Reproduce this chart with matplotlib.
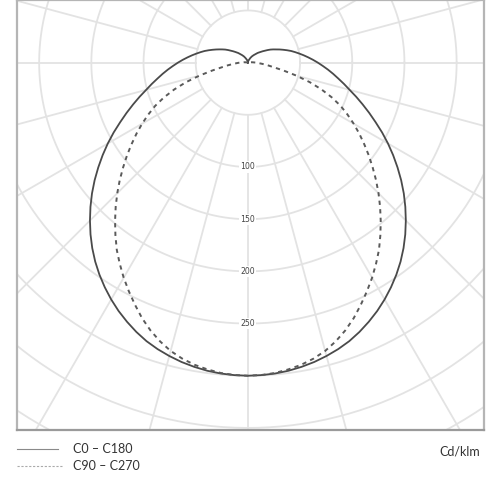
import matplotlib

matplotlib.use("Agg")
import matplotlib.pyplot as plt
import numpy as np

# photometric data, cd/klm, gamma measured from nadir (symmetric planes), 2.5 deg steps
gamma = [i * 2.5 for i in range(73)]
c0_c180 = [300, 299.7, 299, 297.8, 296, 293.8, 291, 287.8, 284, 279.3, 274, 268.3,
           262, 255.2, 248, 240.3, 232, 223.2, 214, 204.6, 195, 185.1, 175, 165,
           155, 145, 135, 125.8, 117, 108.8, 101, 94.3, 88, 82.4, 77, 71.8, 67,
           62.4, 58, 53.9, 50, 46.4, 43, 39.4, 36, 32.9, 30, 27.4, 25, 22.4, 20,
           17.9, 16, 14.4, 13, 11.4, 10, 9, 8, 7, 6, 5, 4, 3.5, 3, 2.5, 2, 1.5, 1,
           0.7, 0.5, 0.2, 0]
c90_c270 = [300, 299.6, 298.5, 296.5, 294, 290.5, 286, 280, 273, 265, 256, 247,
            238, 228.5, 219, 208.5, 198, 187.5, 177, 166.5, 156, 146, 136, 126.5,
            117, 107.5, 98, 87, 75, 62, 48, 35, 25, 19, 14, 10.5, 8, 5.5, 4, 2.5,
            1.5, 0.7, 0, 0, 0, 0, 0, 0, 0, 0, 0, 0, 0, 0, 0, 0, 0, 0, 0, 0, 0, 0,
            0, 0, 0, 0, 0, 0, 0, 0, 0, 0, 0]
ring_values = [50, 100, 150, 200, 250, 300, 350, 400, 450]
ring_labels = [100, 150, 200, 250]
legend_names = ["C0 \u2013 C180", "C90 \u2013 C270"]
unit_label = "Cd/klm"

GRID = "#e3e3e3"


def outline(vals):
    g = np.radians(gamma)
    r = np.asarray(vals, dtype=float)
    x = np.concatenate([-(r * np.sin(g))[::-1], (r * np.sin(g))[1:]])
    y = np.concatenate([-(r * np.cos(g))[::-1], -(r * np.cos(g))[1:]])
    return x, y


fig = plt.figure(figsize=(5, 5), dpi=100)
ax = fig.add_axes([0.034, 0.14, 0.934, 0.86])
ax.set_xlim(-221, 226)
ax.set_ylim(-352, 60)
ax.set_aspect("equal", adjustable="box")
ax.set_xticks([]); ax.set_yticks([])
for s in ax.spines.values():
    s.set_color("#b5b5b5"); s.set_linewidth(1.6)
ax.spines["bottom"].set_color("#9a9a9a")

t = np.linspace(0, 2 * np.pi, 400)
for rv in ring_values:
    ax.plot(rv * np.cos(t), rv * np.sin(t), color=GRID, lw=1.3, zorder=1)
for a in np.arange(0, 360, 15):
    ar = np.radians(a)
    ax.plot([50 * np.cos(ar), 600 * np.cos(ar)], [50 * np.sin(ar), 600 * np.sin(ar)],
            color=GRID, lw=1.3, zorder=1)

for lv in ring_labels:
    ax.text(0, -lv, str(lv), ha="center", va="center", fontsize=5.6, color="#444444",
            zorder=3, bbox=dict(boxstyle="square,pad=0.15", fc="white", ec="none"))

xs, ys = outline(c0_c180)
ax.plot(xs, ys, color="#4a4a4a", lw=1.3, zorder=4)
xd, yd = outline(c90_c270)
ax.plot(xd, yd, color="#5a5a5a", lw=1.4, ls=(0, (2.2, 2.2)), zorder=4)

# legend under the box
fig.add_artist(plt.Line2D([0.034, 0.116], [0.102, 0.102], color="#8a8a8a", lw=0.8))
fig.add_artist(plt.Line2D([0.034, 0.124], [0.068, 0.068], color="#aaaaaa", lw=0.8,
                          ls=(0, (2, 1.5))))
fig.text(0.146, 0.102, legend_names[0], fontsize=9, family="Lato", color="#333333",
         va="center")
fig.text(0.146, 0.068, legend_names[1], fontsize=9, family="Lato", color="#333333",
         va="center")
fig.text(0.96, 0.096, unit_label, fontsize=9, family="Lato", color="#333333",
         va="center", ha="right")

fig.savefig("out.png", dpi=100, facecolor="white")
